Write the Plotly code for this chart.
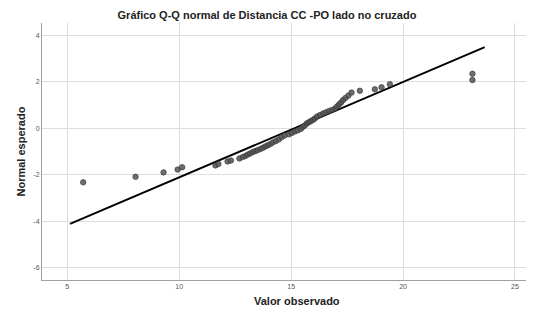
import plotly.graph_objects as go

observed = [5.71, 8.05, 9.30, 9.93, 10.13, 11.62, 11.75, 12.16, 12.31, 12.69,
            12.84, 12.96, 13.07, 13.18, 13.29, 13.40, 13.51, 13.63, 13.74, 13.85,
            13.96, 14.07, 14.18, 14.32, 14.45, 14.58, 14.71, 14.90, 15.03, 15.16,
            15.29, 15.43, 15.52, 15.61, 15.70, 15.79, 15.88, 15.97, 16.06, 16.16,
            16.29, 16.43, 16.56, 16.70, 16.83, 16.96, 17.05, 17.14, 17.23, 17.32,
            17.43, 17.56, 17.70, 18.07, 18.74, 19.04, 19.41, 23.10, 23.10]
expected = [-2.33, -2.09, -1.90, -1.78, -1.68, -1.60, -1.54, -1.43, -1.39, -1.30,
            -1.24, -1.19, -1.13, -1.08, -1.02, -0.98, -0.94, -0.89, -0.84, -0.78,
            -0.73, -0.68, -0.61, -0.55, -0.48, -0.38, -0.31, -0.26, -0.20, -0.14,
            -0.09, -0.03, 0.06, 0.12, 0.21, 0.26, 0.31, 0.36, 0.42, 0.51,
            0.57, 0.64, 0.69, 0.75, 0.79, 0.85, 0.94, 1.03, 1.11, 1.22,
            1.31, 1.41, 1.54, 1.62, 1.68, 1.77, 1.90, 2.08, 2.35]

# Reference line (normal with estimated mean / sd)
ref_mean = 15.14
ref_sd = 2.43
line_x = [5.12, 23.65]
line_y = [(v - ref_mean) / ref_sd for v in line_x]

x_ticks = [5, 10, 15, 20, 25]
y_ticks = [-6, -4, -2, 0, 2, 4]

# page body has an 8px margin, so the figure is 8px smaller than the window
W, H = 526, 305
PLOT_W = W - 34
PLOT_H = H - 15 - 33

fig = go.Figure()
fig.add_trace(go.Scatter(
    x=line_x, y=line_y, mode="lines",
    line=dict(color="black", width=2), hoverinfo="skip", showlegend=False))
fig.add_trace(go.Scatter(
    x=observed, y=expected, mode="markers",
    marker=dict(size=5.5, color="rgba(85,85,85,0.85)",
                line=dict(color="rgba(50,50,50,0.9)", width=0.7)),
    showlegend=False))

font_family = "Liberation Sans, Arial, sans-serif"
fig.update_layout(
    width=W, height=H,
    margin=dict(l=34, r=0, t=15, b=33, autoexpand=False),
    paper_bgcolor="white", plot_bgcolor="white",
    title=dict(text="<b>Gráfico Q-Q normal de Distancia CC -PO lado no cruzado</b>",
               x=(267 - 8) / W, xref="container", xanchor="center",
               y=1 - 7 / H, yref="container", yanchor="middle",
               font=dict(family=font_family, size=11, color="#222")),
    font=dict(family=font_family),
    annotations=[
        dict(text="<b>Valor observado</b>", xref="paper", yref="paper",
             x=(297 - 42) / PLOT_W, y=-21 / PLOT_H, xanchor="center", yanchor="middle",
             showarrow=False, font=dict(size=11, color="#222")),
        dict(text="<b>Normal esperado</b>", xref="paper", yref="paper",
             x=-22 / PLOT_W, y=0.5, xanchor="center", yanchor="middle",
             textangle=-90, showarrow=False, font=dict(size=11, color="#222")),
    ],
)
fig.update_xaxes(
    range=[3.87, 25.85], tickvals=x_ticks, ticktext=[str(t) for t in x_ticks],
    showgrid=True, gridcolor="#dedede", gridwidth=1, zeroline=False,
    showline=True, linecolor="#a0a0a0", linewidth=1, automargin=False,
    ticks="", tickfont=dict(size=7, color="#555"))
fig.update_yaxes(
    range=[-6.54, 4.54], tickvals=y_ticks, ticktext=[str(t) for t in y_ticks],
    showgrid=True, gridcolor="#dedede", gridwidth=1, zeroline=False,
    showline=True, linecolor="#a0a0a0", linewidth=1, automargin=False,
    ticks="", tickfont=dict(size=7, color="#555"))

fig.write_html("out.html")
